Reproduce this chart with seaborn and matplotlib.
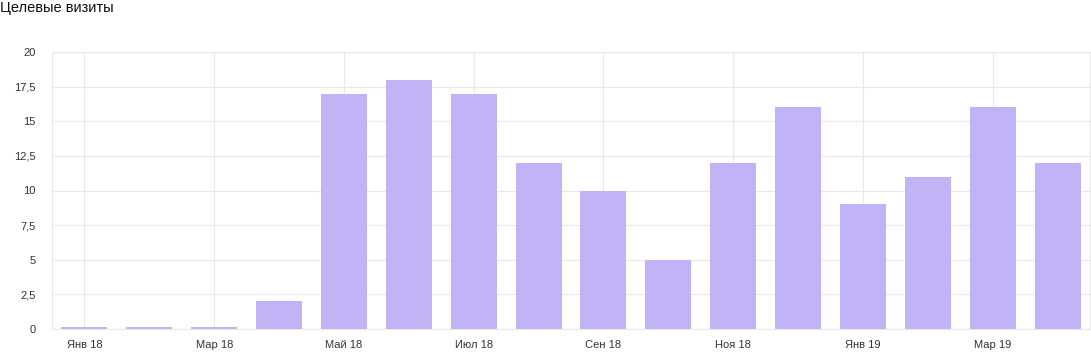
import matplotlib
matplotlib.use("Agg")
import matplotlib.pyplot as plt
import seaborn as sns
import pandas as pd
from matplotlib.ticker import FuncFormatter

months = ["Янв 18", "Фев 18", "Мар 18", "Апр 18", "Май 18", "Июн 18", "Июл 18", "Авг 18",
          "Сен 18", "Окт 18", "Ноя 18", "Дек 18", "Янв 19", "Фев 19", "Мар 19", "Апр 19"]
visits = [0.15, 0.15, 0.15, 2, 17, 18, 17, 12, 10, 5, 12, 16, 9, 11, 16, 12]
y_ticks = [0, 2.5, 5, 7.5, 10, 12.5, 15, 17.5, 20]

sns.set_theme(style="white")
plt.rcParams["font.family"] = ["Liberation Sans", "DejaVu Sans"]

df = pd.DataFrame({"month": months, "visits": visits})

fig = plt.figure(figsize=(10.91, 3.61), dpi=100)
ax = fig.add_axes([52 / 1091, 1 - 329 / 361, (1090 - 52) / 1091, (329 - 52) / 361])

sns.barplot(data=df, x="month", y="visits", order=months, color="#c2b3f7",
            saturation=1, width=0.71, linewidth=0, ax=ax, zorder=3)

ax.set_xlim(-0.5, len(months) - 0.5)
ax.set_ylim(0, 20)
ax.set_yticks(y_ticks)
ax.yaxis.set_major_formatter(FuncFormatter(lambda v, p: f"{v:g}".replace(".", ",")))
ax.set_xticks(range(0, len(months), 2))
ax.set_xticklabels(months[::2])

ax.grid(True, color="#e8e8e8", linewidth=0.8, zorder=0)
ax.set_axisbelow(True)
for s in ax.spines.values():
    s.set_color("#e8e8e8")
    s.set_linewidth(0.8)
ax.tick_params(axis="both", length=0, labelsize=8, colors="#333333")
ax.tick_params(axis="x", pad=8)
ax.tick_params(axis="y", pad=12)
ax.set_xlabel("")
ax.set_ylabel("")

fig.text(0.0, 1 - 8 / 361, "Целевые визиты", fontsize=10.5, color="#111111", va="center", ha="left")

fig.savefig("out.png", dpi=100)
